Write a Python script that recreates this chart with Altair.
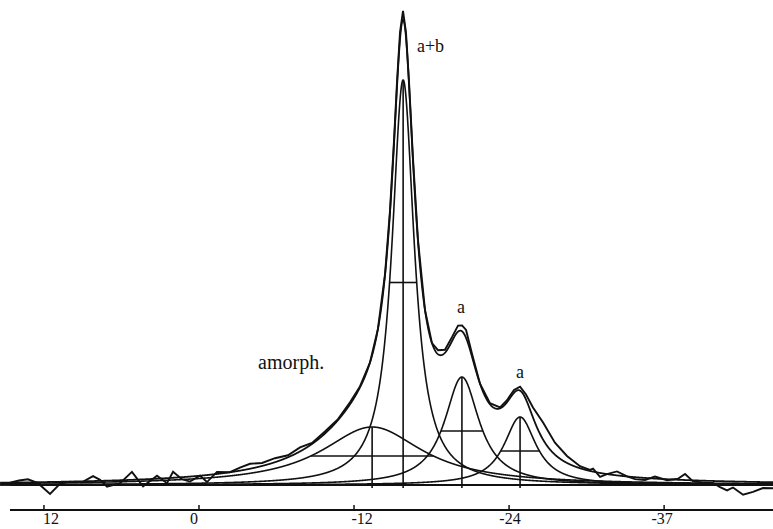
import numpy as np
import pandas as pd
import altair as alt

# ---- component parameters (ppm, intensity in arbitrary units) ----
comp_names = ["a+b", "amorph", "a1", "a2"]
comp_center = [-15.8, -13.4, -20.35, -24.85]
comp_height = [405, 58, 108, 68]
comp_fwhm = [2.1, 9.5, 3.25, 3.0]

exp_ppm = [14.63, 13.93, 13.24, 12.46, 11.53, 10.76, 9.98, 9.06, 8.20, 7.66, 7.12, 6.11,
           5.19, 4.33, 3.79, 3.25, 2.48, 2.01, 1.32, 0.70, -0.08, -0.62, -1.39, -2.40,
           -3.17, -3.95, -4.88, -5.88, -6.89, -7.82, -8.75, -9.75, -10.76, -11.69, -12.46,
           -13.24, -13.85, -14.40, -14.78, -15.09, -15.33, -15.56, -15.79, -16.02, -16.25,
           -16.56, -16.95, -17.49, -18.03, -18.50, -19.04, -19.58, -20.05, -20.36, -20.67,
           -21.13, -21.75, -22.52, -23.30, -23.84, -24.38, -24.85, -25.31, -25.85, -26.63,
           -27.55, -28.48, -29.49, -30.26, -30.50, -31.04, -31.58, -32.35, -33.13, -33.75,
           -34.52, -35.29, -36.22, -37.07, -37.62, -38.24, -39.16, -39.78, -40.33, -40.87,
           -41.33, -42.11, -42.88, -43.65, -44.43]
exp_dev = [0, 2, 3, -1, -12, -2, 0, -1, 5, 1, -6, -3,
           8, -7, -2, 3, -5, 6, -2, -5, 0, -7, 2, 0,
           3, 5, 3, 4, 2, 4, 1, 2, 1, 2, 1,
           0, 0, 1, 2, 3, 5, 7, 9, 5, 3,
           2, 1, 0, 0, 4, 3, 4, 6, 6, 8,
           3, 0, 1, 1, 2, 3, 4, 5, 10, 17,
           12, 7, 2, 1, 3, -4, 0, 4, 0, -2,
           -2, 2, -1, 1, 6, -1, -2, -2, -6, -9,
           -6, -13, -10, -6, -6]

# ---- axis ----
tick_values = [12, 0, -12, -24, -36]
tick_labels = ["12", "0", "-12", "-24", "-37"]
label_ppm = [11.46, 0.39, -12.62, -24.07, -35.84]

# ---- annotations ----
ann_text = ["a+b", "a", "a", "amorph."]
ann_ppm = [-16.87, -20.28, -24.85, -4.57]
ann_val = [438, 177, 112, 122]
ann_align = ["left", "center", "center", "left"]
ann_size = [18, 18, 18, 20]

X_LEFT, X_RIGHT = 15.402, -44.427
BASE_LEFT = 14.63


def lorentz(x, c, h, w):
    return h / (1.0 + ((x - c) / (w / 2.0)) ** 2)


grid = np.round(np.arange(X_RIGHT, X_LEFT, 0.02), 3)
rows = []
fit = np.zeros_like(grid)
for n, c, h, w in zip(comp_names, comp_center, comp_height, comp_fwhm):
    yv = lorentz(grid, c, h, w)
    fit += yv
    for p, v in zip(grid, yv):
        rows.append({"ppm": p, "v": v, "comp": n})
comp_df = pd.DataFrame(rows)
fit_df = pd.DataFrame({"ppm": grid, "v": fit})


def fit_at(p):
    return sum(lorentz(p, c, h, w) for c, h, w in zip(comp_center, comp_height, comp_fwhm))


exp_df = pd.DataFrame({"ppm": exp_ppm,
                       "v": [fit_at(p) + d for p, d in zip(exp_ppm, exp_dev)],
                       "order": list(range(len(exp_ppm)))})

bars_df = pd.DataFrame({
    "c": comp_center,
    "top": comp_height,
    "half": [h / 2 for h in comp_height],
    "lo": [c - w / 2 for c, w in zip(comp_center, comp_fwhm)],
    "hi": [c + w / 2 for c, w in zip(comp_center, comp_fwhm)],
    "bottom": [-3] * len(comp_center),
})

xs = alt.Scale(domain=[X_RIGHT, X_LEFT], reverse=True, nice=False, zero=False)
ys = alt.Scale(domain=[-44, 485], nice=False, zero=False)
INK = "#111111"

base_line = alt.Chart(pd.DataFrame({"a": [BASE_LEFT], "b": [X_RIGHT], "v": [0]})).mark_rule(
    color=INK, strokeWidth=2.2).encode(
    x=alt.X("a:Q", scale=xs, axis=None), x2="b:Q", y=alt.Y("v:Q", scale=ys, axis=None))

comps = alt.Chart(comp_df).mark_line(color=INK, strokeWidth=1.6).encode(
    x=alt.X("ppm:Q", scale=xs, axis=None), y=alt.Y("v:Q", scale=ys, axis=None),
    detail="comp:N")

fit_line = alt.Chart(fit_df).mark_line(color=INK, strokeWidth=1.8).encode(
    x=alt.X("ppm:Q", scale=xs, axis=None), y=alt.Y("v:Q", scale=ys, axis=None))

exp_line = alt.Chart(exp_df).mark_line(color=INK, strokeWidth=1.9).encode(
    x=alt.X("ppm:Q", scale=xs, axis=None), y=alt.Y("v:Q", scale=ys, axis=None),
    order="order:Q")

verticals = alt.Chart(bars_df).mark_rule(color=INK, strokeWidth=1.6).encode(
    x=alt.X("c:Q", scale=xs, axis=None), y=alt.Y("bottom:Q", scale=ys, axis=None), y2="top:Q")

crossbars = alt.Chart(bars_df).mark_rule(color=INK, strokeWidth=1.6).encode(
    x=alt.X("lo:Q", scale=xs, axis=None), x2="hi:Q", y=alt.Y("half:Q", scale=ys, axis=None))

axis_line = alt.Chart(pd.DataFrame({"a": [BASE_LEFT], "b": [X_RIGHT], "v": [-25]})).mark_rule(
    color=INK, strokeWidth=2).encode(
    x=alt.X("a:Q", scale=xs, axis=None), x2="b:Q", y=alt.Y("v:Q", scale=ys, axis=None))

ticks_df = pd.DataFrame({"t": tick_values, "y1": [-25] * 5, "y2": [-20] * 5})
ticks = alt.Chart(ticks_df).mark_rule(color=INK, strokeWidth=1.5).encode(
    x=alt.X("t:Q", scale=xs, axis=None), y=alt.Y("y1:Q", scale=ys, axis=None), y2="y2:Q")

labels_df = pd.DataFrame({"p": label_ppm, "lab": tick_labels, "v": [-38.5] * 5})
labels = alt.Chart(labels_df).mark_text(
    font="Liberation Serif", fontSize=16, color=INK, align="center", baseline="alphabetic").encode(
    x=alt.X("p:Q", scale=xs, axis=None), y=alt.Y("v:Q", scale=ys, axis=None), text="lab:N")

ann_layers = []
for t, p, v, al, fs in zip(ann_text, ann_ppm, ann_val, ann_align, ann_size):
    ann_layers.append(
        alt.Chart(pd.DataFrame({"p": [p], "v": [v], "t": [t]})).mark_text(
            font="Liberation Serif", fontSize=fs, color=INK, align=al, baseline="middle").encode(
            x=alt.X("p:Q", scale=xs, axis=None), y=alt.Y("v:Q", scale=ys, axis=None), text="t:N"))

chart = alt.layer(base_line, comps, fit_line, exp_line, verticals, crossbars,
                  axis_line, ticks, labels, *ann_layers).properties(
    width=773, height=529, autosize=alt.AutoSizeParams(type="none"), padding=0,
    background="white").configure_view(stroke=None)

chart.save("out.html", embed_options={"renderer": "svg", "actions": False})
